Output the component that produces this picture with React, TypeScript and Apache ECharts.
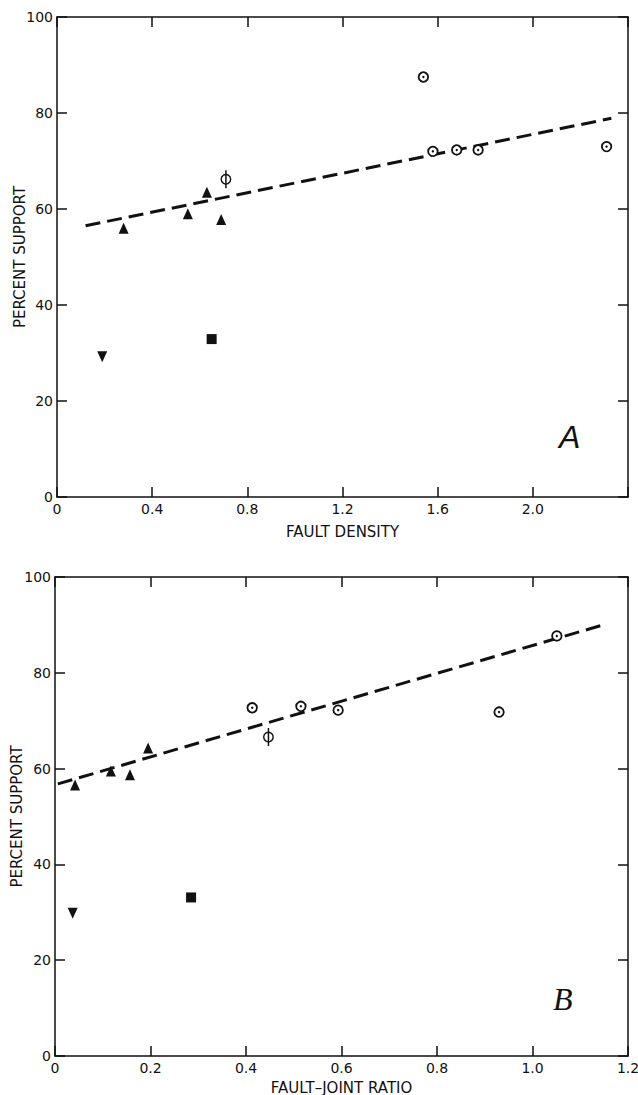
import React, { useEffect, useRef } from "react";
import * as echarts from "echarts";

// Panel A: fault density vs percent support
const triA = [[0.28, 56], [0.55, 59], [0.63, 63.5], [0.69, 57.8]];
const invA = [[0.19, 29.2]];
const sqA = [[0.65, 32.9]];
const circA = [[1.54, 87.5], [1.58, 72], [1.68, 72.3], [1.77, 72.3], [2.31, 73]];
const phiA = [[0.71, 66.2]];
const fitA = [[0.12, 56.5], [2.33, 78.9]];

// Panel B: fault-joint ratio vs percent support
const triB = [[0.042, 56.6], [0.117, 59.5], [0.157, 58.7], [0.195, 64.3]];
const invB = [[0.037, 29.8]];
const sqB = [[0.285, 33.1]];
const circB = [[0.413, 72.7], [0.515, 73], [0.593, 72.2], [0.93, 71.8], [1.051, 87.7]];
const phiB = [[0.447, 66.6]];
const fitB = [[0.006, 56.8], [1.148, 90]];

const yTicks = [0, 20, 40, 60, 80, 100];
const xMaxA = 2.4;
const xMaxB = 1.2;

const FONT = "DejaVu Sans";

export default function App() {
  const ref = useRef<HTMLDivElement>(null);
  useEffect(() => {
    const chart = echarts.init(ref.current!, null, { renderer: "svg" });
    const axisLine = { show: true, onZero: false, lineStyle: { color: "#111", width: 1.5 } };
    const tick = { show: true, inside: true, length: 10, lineStyle: { color: "#111", width: 1.5 } };
    const lbl = { color: "#111", fontSize: 14, fontFamily: FONT };
    const nameStyle = { color: "#111", fontSize: 15, fontFamily: FONT };
    const xFmt = (max: number) => (v: number) =>
      v === 0 ? "0" : Math.abs(v - max) < 1e-9 && max > 2 ? "" : v.toFixed(1);

    const mkX = (grid: number, max: number, interval: number, name: string, gap: number) => [
      {
        type: "value", gridIndex: grid, position: "bottom", min: 0, max, interval,
        name, nameLocation: "middle", nameGap: gap, nameTextStyle: nameStyle, nameMoveOverlap: false,
        axisLine, axisTick: tick, splitLine: { show: false },
        axisLabel: { ...lbl, margin: 5, formatter: xFmt(max) },
      },
      {
        type: "value", gridIndex: grid, position: "top", min: 0, max, interval,
        axisLine, axisTick: tick, splitLine: { show: false }, axisLabel: { show: false },
      },
    ];
    const mkY = (grid: number, gap: number) => [
      {
        type: "value", gridIndex: grid, position: "left", min: yTicks[0], max: yTicks[yTicks.length - 1], interval: 20,
        name: "PERCENT SUPPORT", nameLocation: "middle", nameGap: gap, nameTextStyle: nameStyle, nameMoveOverlap: false,
        axisLine, axisTick: tick, splitLine: { show: false },
        axisLabel: { ...lbl, margin: 4 },
      },
      {
        type: "value", gridIndex: grid, position: "right", min: 0, max: 100, interval: 20,
        axisLine, axisTick: tick, splitLine: { show: false }, axisLabel: { show: false },
      },
    ];

    const solid = { color: "#111", opacity: 1 };
    const mkSeries = (xi: number, yi: number, tri: number[][], inv: number[][], sq: number[][], circ: number[][], phi: number[][], fit: number[][]) => [
      {
        type: "line", xAxisIndex: xi, yAxisIndex: yi, data: fit, symbol: "none",
        lineStyle: { color: "#111", width: 3, type: [15, 7] }, z: 2,
      },
      {
        type: "scatter", xAxisIndex: xi, yAxisIndex: yi, data: tri, symbol: "triangle", symbolSize: [10, 11],
        itemStyle: solid, z: 3,
      },
      {
        type: "scatter", xAxisIndex: xi, yAxisIndex: yi, data: inv, symbol: "triangle", symbolRotate: 180, symbolSize: [10, 11],
        itemStyle: solid, z: 3,
      },
      {
        type: "scatter", xAxisIndex: xi, yAxisIndex: yi, data: sq, symbol: "rect", symbolSize: 10,
        itemStyle: solid, z: 3,
      },
      {
        type: "scatter", xAxisIndex: xi, yAxisIndex: yi, data: circ, symbol: "circle", symbolSize: 9.5,
        itemStyle: { color: "#fff", opacity: 1, borderColor: "#111", borderWidth: 1.8 }, z: 3,
      },
      {
        type: "scatter", xAxisIndex: xi, yAxisIndex: yi, data: circ, symbol: "circle", symbolSize: 2.4,
        itemStyle: solid, z: 4,
      },
      {
        type: "scatter", xAxisIndex: xi, yAxisIndex: yi, data: phi, symbol: "circle", symbolSize: 9.5,
        itemStyle: { color: "#fff", opacity: 1, borderColor: "#111", borderWidth: 1.4 }, z: 3,
      },
      {
        type: "scatter", xAxisIndex: xi, yAxisIndex: yi, data: phi, symbol: "rect", symbolSize: [1.5, 18],
        itemStyle: solid, z: 4,
      },
    ];

    chart.setOption({
      animation: false,
      backgroundColor: "#fff",
      grid: [
        { left: 57, top: 17, width: 571, height: 480, containLabel: false, outerBoundsMode: "none" },
        { left: 55, top: 577, width: 573, height: 479, containLabel: false, outerBoundsMode: "none" },
      ],
      xAxis: [
        ...mkX(0, xMaxA, 0.4, "FAULT DENSITY", 27),
        ...mkX(1, xMaxB, 0.2, "FAULT\u2013JOINT RATIO", 24),
      ],
      yAxis: [...mkY(0, 30), ...mkY(1, 31)],
      series: [
        ...mkSeries(0, 0, triA, invA, sqA, circA, phiA, fitA),
        ...mkSeries(2, 2, triB, invB, sqB, circB, phiB, fitB),
      ],
      graphic: [
        {
          type: "text", left: 559, top: 421,
          style: { text: "A", fontSize: 32, fontStyle: "italic", fontFamily: "Liberation Sans", fill: "#111" },
        },
        {
          type: "text", left: 553, top: 983,
          style: { text: "B", fontSize: 32, fontStyle: "italic", fontFamily: "Liberation Serif", fill: "#111" },
        },
      ],
    });
    return () => chart.dispose();
  }, []);
  return (
    <div
      ref={ref}
      style={{ position: "absolute", left: 0, top: 0, width: 638, height: 1095 }}
    />
  );
}
